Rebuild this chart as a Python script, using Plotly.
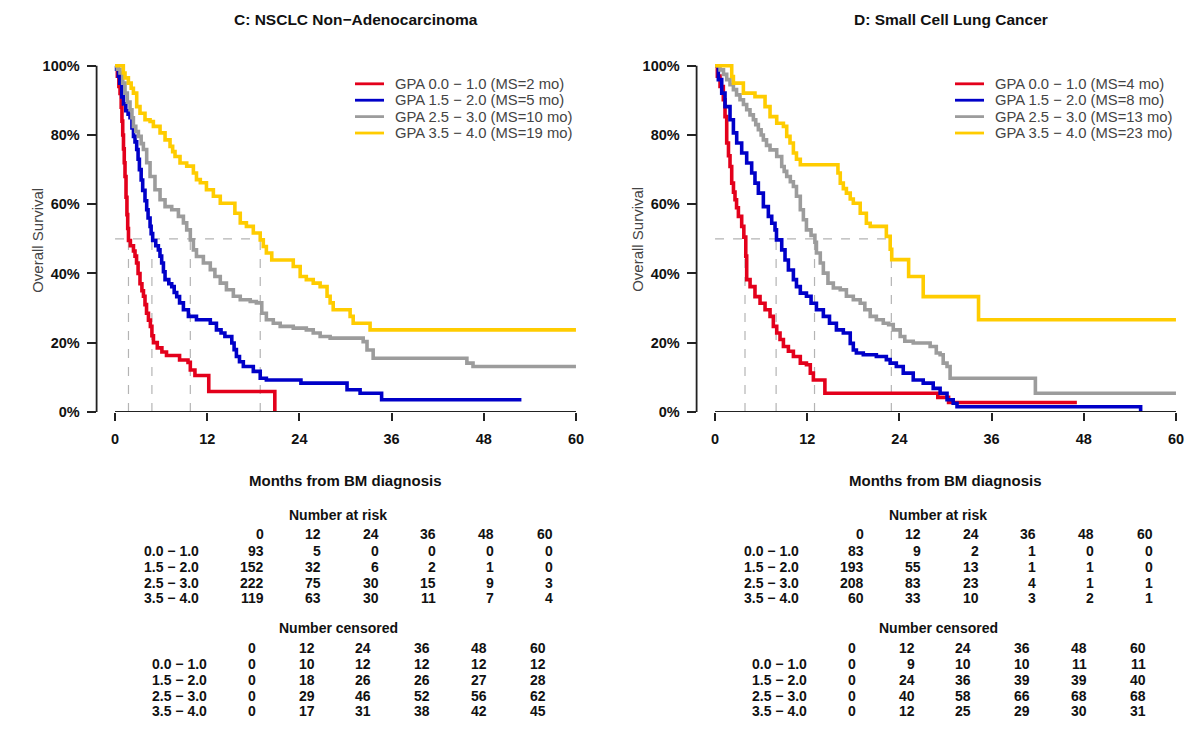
import plotly.graph_objects as go

# reference canvas is 1200x731; the page body offsets the figure, so positions are mapped
W, H = 1200, 731
M = 8
FW, FH = W - M, H - 2 * M
Y0, YS = 12.2, 0.983   # measured vertical placement of the figure on the page

groups = ["0.0 − 1.0", "1.5 − 2.0", "2.5 − 3.0", "3.5 − 4.0"]
colors = ["#e3001b", "#0000c8", "#9c9c9c", "#ffcc00"]
risk_times = [0, 12, 24, 36, 48, 60]
pct_vals = [0, 20, 40, 60, 80, 100]
pct_text = ["0%", "20%", "40%", "60%", "80%", "100%"]

# ---- panel C: NSCLC non-adenocarcinoma ----
c_title = "C: NSCLC Non−Adenocarcinoma"
c_ms = [2, 5, 10, 19]
c_median = [1.75, 4.8, 9.8, 18.9]

c_red_t = [0, 0.3, 0.5, 0.65, 0.8, 0.9, 1.0, 1.1, 1.2, 1.3, 1.43, 1.55, 1.65, 1.75, 2.0, 2.4, 2.6, 2.8,
           3.0, 3.25, 3.5, 3.7, 3.9, 4.1, 4.35, 4.6, 4.8, 5.0, 5.5, 6.1, 6.7, 8.4, 9.5, 9.8, 10.4, 12.2, 20.8]
c_red_s = [100, 97, 94, 92, 88, 84, 80, 76, 72, 68, 62, 57, 53, 49.5, 48, 46.5, 45, 43,
           40, 37, 35, 33.4, 31, 28.5, 26.5, 24.7, 22, 20, 18.5, 17.3, 16.3, 15, 14.3, 12.1, 10.5, 5.9, 0]

c_blue_t = [0, 0.2, 0.43, 0.6, 0.87, 1.1, 1.4, 1.7, 1.95, 2.2, 2.4, 2.6, 2.82, 3.0, 3.17, 3.4, 3.6, 3.9,
            4.12, 4.3, 4.56, 4.7, 4.9, 5.3, 5.64, 5.85, 6.07, 6.3, 6.51, 7.0, 7.38, 7.7, 8.03, 8.4, 8.9,
            9.55, 10.6, 12.4, 13.2, 13.8, 14.3, 15.2, 15.5, 15.8, 16.2, 16.7, 18.0, 18.9, 19.7, 24.2,
            30.2, 31.9, 34.7, 52.9]
c_blue_s = [100, 99, 97, 95, 91, 89, 87, 86, 85, 82, 79.6, 78, 75.8, 73, 70, 67, 64, 61,
            58.4, 56, 53.6, 51.5, 49.5, 48, 46.8, 45, 43, 40.5, 38.2, 37, 36.2, 34.5, 33.3, 31.5, 29.5,
            27.6, 26.6, 25.6, 23.7, 22.8, 21.8, 19.9, 18, 16, 14.5, 13.1, 11.7, 9.7, 9.2, 8.3,
            6.4, 5.4, 3.5, 3.5]

c_grey_t = [0, 0.3, 0.65, 1.0, 1.3, 1.6, 1.95, 2.2, 2.39, 2.7, 3.04, 3.4, 3.69, 4.12, 4.56, 5.2, 5.86,
            6.51, 7.38, 8.25, 8.9, 9.33, 9.8, 10.2, 10.6, 11.5, 12.4, 13.0, 13.7, 14.5, 15.4, 16.3,
            17.6, 18.4, 19.1, 19.7, 20.6, 21.5, 23.2, 24.9, 25.8, 26.7, 28.0, 32.3, 32.8, 33.6, 45.8,
            46.6, 60]
c_grey_s = [100, 99, 97.9, 95, 92.1, 89.5, 87.3, 85, 82.5, 81, 79.6, 77.5, 75.8, 72, 68, 64.2, 61.3,
            59.3, 58.4, 56.5, 54.6, 52.6, 49.7, 46.8, 44.9, 43, 41.1, 39.1, 37.2, 35.3, 33.4, 32.4,
            31.9, 31.5, 28.5, 26.6, 25.6, 24.7, 24.2, 23.7, 22.8, 21.8, 21.3, 20.3, 17.9, 15.5, 14.1,
            13.1, 13.1]

c_yel_t = [0, 1.08, 1.3, 1.74, 2.1, 2.39, 2.82, 3.25, 3.9, 4.56, 4.99, 5.86, 6.51, 7.16, 7.5, 7.81,
           8.46, 9.33, 10.2, 10.6, 11.1, 11.9, 12.8, 13.7, 15.6, 16.3, 17.1, 18.0, 18.9, 19.3, 19.7,
           20.4, 23.2, 24.1, 24.9, 25.8, 26.7, 27.6, 28.0, 28.4, 30.6, 31.0, 33.2, 60]
c_yel_s = [100, 97.9, 96.5, 95, 93.5, 92.1, 88.2, 86.3, 84.4, 83.9, 82.5, 80.6, 78.6, 76.7, 75.2, 73.8,
           71.9, 71, 69, 67.1, 66.2, 64.2, 62.3, 60.3, 57.4, 54.6, 53.6, 51.7, 49.7, 47.8, 45.9,
           43.9, 42, 39.1, 38.2, 37.2, 36.2, 33.4, 31.5, 29.5, 27.6, 25.6, 23.7, 23.7]

c_risk = [[93, 5, 0, 0, 0, 0], [152, 32, 6, 2, 1, 0], [222, 75, 30, 15, 9, 3], [119, 63, 30, 11, 7, 4]]
c_cens = [[0, 10, 12, 12, 12, 12], [0, 18, 26, 26, 27, 28], [0, 29, 46, 52, 56, 62], [0, 17, 31, 38, 42, 45]]

# ---- panel D: small cell lung cancer ----
d_title = "D: Small Cell Lung Cancer"
d_ms = [4, 8, 13, 23]
d_median = [3.9, 7.95, 12.95, 22.95]

d_red_t = [0, 0.3, 0.65, 1.08, 1.3, 1.52, 1.75, 1.95, 2.17, 2.4, 2.6, 2.8, 3.04, 3.47, 3.75, 4.0, 4.12,
           4.56, 5.2, 5.86, 6.51, 7.16, 7.59, 8.03, 8.46, 8.9, 9.55, 10.2, 11.1, 11.9, 12.4, 12.8, 14.3,
           29.0, 30.4, 47.1]
d_red_s = [100, 97, 94, 90.2, 85.3, 77.7, 74, 70.9, 66.1, 63.5, 61.3, 59, 56.5, 53.6, 50.5, 45, 38.2,
           36.2, 33.3, 31.4, 29.5, 27.6, 24.7, 22.8, 20.9, 18.9, 17.5, 16, 14.1, 13.6, 11.2, 9.2, 5.4,
           4.2, 2.7, 2.7]

d_blue_t = [0, 0.43, 0.87, 1.3, 1.95, 2.39, 2.82, 3.47, 4.12, 4.77, 5.2, 5.64, 6.29, 6.94, 7.38, 7.81,
            8.0, 8.68, 9.11, 9.55, 10.2, 10.6, 11.1, 11.9, 12.5, 13.2, 14.1, 14.9, 15.8, 16.7, 17.6,
            18.0, 18.4, 19.3, 21.0, 22.3, 22.8, 23.6, 24.5, 25.8, 27.1, 28.4, 29.3, 30.2, 31.0, 31.5, 55.4]
d_blue_s = [100, 96, 92.1, 88.2, 84.4, 80.6, 77.7, 74.8, 71.9, 69, 66.1, 63.2, 59.3, 56.5, 54.5, 52.6,
            49.7, 46.8, 43.9, 41, 38.2, 36.2, 34.3, 33.4, 31.4, 29.5, 27.6, 25.6, 23.7, 22.8, 19.8,
            17.9, 17, 16.5, 16, 15.1, 14.1, 13.1, 11.2, 9.2, 8.3, 6.8, 5.4, 3.5, 2.5, 1.5, 0]

d_grey_t = [0, 0.65, 1.1, 1.52, 1.95, 2.39, 2.8, 3.25, 3.7, 4.12, 4.55, 4.99, 5.3, 5.64, 6.0, 6.29, 6.7,
            7.16, 8.03, 8.68, 9.0, 9.33, 9.8, 10.2, 10.6, 11.1, 11.5, 11.9, 12.5, 13.0, 13.2, 13.7, 14.1,
            14.7, 15.4, 16.3, 17.1, 18.0, 18.9, 19.5, 20.2, 21.0, 21.9, 22.6, 23.2, 24.1, 24.7, 25.8,
            28.0, 28.8, 29.3, 29.7, 30.2, 30.6, 41.7, 60]
d_grey_s = [100, 98.8, 97.5, 96, 94.5, 93.1, 91.6, 90.2, 88.8, 87.3, 85.8, 84.4, 83, 81.5, 80, 78.6, 77,
            75.7, 73.8, 70.9, 69.5, 68, 66.5, 65.1, 62.3, 58.4, 55.5, 52.6, 51, 49, 45.9, 43, 40.1,
            37.2, 35.8, 35.3, 33.4, 32.4, 31.4, 29.5, 27.6, 26.6, 25.6, 25.2, 23.7, 21.8, 20.4, 19.9,
            18.9, 17, 16.5, 14.1, 13.1, 9.7, 5.4, 5.4]

d_yel_t = [0, 2.17, 2.39, 3.69, 5.2, 6.51, 7.16, 8.03, 8.9, 9.33, 9.76, 10.2, 10.6, 11.1, 16.0, 16.3,
           16.7, 17.1, 17.6, 18.0, 18.9, 19.7, 20.2, 22.3, 22.8, 23.0, 25.2, 27.1, 34.3, 60]
d_yel_s = [100, 96.9, 95, 92.1, 91.1, 88.2, 85.3, 83.4, 82.5, 79.6, 77.7, 74.8, 73, 71.4, 69, 66.1,
           64.5, 63.2, 61.5, 60.3, 57.4, 54.5, 53.6, 50.7, 47, 44, 39.1, 33.3, 26.6, 26.6]

d_risk = [[83, 9, 2, 1, 0, 0], [193, 55, 13, 1, 1, 0], [208, 83, 23, 4, 1, 1], [60, 33, 10, 3, 2, 1]]
d_cens = [[0, 9, 10, 10, 11, 11], [0, 24, 36, 39, 39, 40], [0, 40, 58, 66, 68, 68], [0, 12, 25, 29, 30, 31]]

panels = [
    dict(title=c_title, ms=c_ms, median=c_median,
         curves=[(c_red_t, c_red_s), (c_blue_t, c_blue_s), (c_grey_t, c_grey_s), (c_yel_t, c_yel_s)],
         risk=c_risk, cens=c_cens),
    dict(title=d_title, ms=d_ms, median=d_median,
         curves=[(d_red_t, d_red_s), (d_blue_t, d_blue_s), (d_grey_t, d_grey_s), (d_yel_t, d_yel_s)],
         risk=d_risk, cens=d_cens),
]


def px(x):
    # screen pixel -> paper fraction
    return (x - M) / FW


def py(y):
    return 1 - ((y - Y0) / YS) / FH


FONT = "Liberation Sans, Arial, sans-serif"
bold = dict(family=FONT, size=14, color="#111", weight="bold")


def label(text, x, y, anchor="center", font=bold, **kw):
    return dict(text=text, x=px(x), y=py(y), xref="paper", yref="paper", xanchor=anchor,
                yanchor="middle", showarrow=False, font=font, **kw)


fig = go.Figure()
shapes, annotations = [], []
title_x = [356, 951]

for k, p in enumerate(panels):
    dx = 600 * k
    xa = "x" if k == 0 else "x2"
    ya = "y" if k == 0 else "y2"

    # median guide lines
    guide = dict(color="#b4b4b4", width=1.2, dash="dash")
    fig.add_trace(go.Scatter(x=[0, max(p["median"])], y=[50, 50], mode="lines", xaxis=xa, yaxis=ya,
                             line=guide, showlegend=False, hoverinfo="skip"))
    for m in p["median"]:
        fig.add_trace(go.Scatter(x=[m, m], y=[0, 50], mode="lines", xaxis=xa, yaxis=ya,
                                 line=guide, showlegend=False, hoverinfo="skip"))

    # survival curves
    for i, (t, s) in enumerate(p["curves"]):
        fig.add_trace(go.Scatter(x=t, y=s, mode="lines", line_shape="hv", xaxis=xa, yaxis=ya,
                                 line=dict(color=colors[i], width=3.6),
                                 name="GPA %s (MS=%d mo)" % (groups[i], p["ms"][i]),
                                 showlegend=False))

    # axis lines (R style: x axis from first to last tick)
    shapes.append(dict(type="line", xref=xa, yref=ya, x0=0, x1=60, y0=0, y1=0,
                       line=dict(color="#222", width=1.8)))
    shapes.append(dict(type="line", xref=xa + " domain", yref=ya, x0=0, x1=0, y0=0, y1=100,
                       line=dict(color="#222", width=1.8)))

    # legend
    for i in range(4):
        ry = 84 + i * 16.4
        shapes.append(dict(type="line", xref="paper", yref="paper",
                           x0=px(355 + dx), x1=px(384 + dx), y0=py(ry), y1=py(ry),
                           line=dict(color=colors[i], width=2.8)))
        annotations.append(label("GPA %s (MS=%d mo)" % (groups[i], p["ms"][i]), 393 + dx, ry, "left",
                                 dict(family=FONT, size=14.8, color="#444")))

    # titles
    annotations.append(label(p["title"], title_x[k], 20,
                             font=dict(family=FONT, size=15.5, color="#111", weight="bold")))
    annotations.append(label("Overall Survival", 38 + dx, 240, font=dict(family=FONT, size=15, color="#444"),
                             textangle=-90))
    annotations.append(label("Months from BM diagnosis", 345 + dx, 481,
                             font=dict(family=FONT, size=15, color="#111", weight="bold")))

    # number at risk table
    annotations.append(label("Number at risk", 338 + dx, 515))
    risk_cols = [266, 323, 381, 438, 496, 555]
    risk_rows = [551, 567, 583, 598]
    for j, tm in enumerate(risk_times):
        annotations.append(label(str(tm), risk_cols[j] + dx, 534, "right"))
    for i in range(4):
        annotations.append(label(groups[i], 201 + dx, risk_rows[i], "right"))
        for j in range(6):
            annotations.append(label(str(p["risk"][i][j]), risk_cols[j] + dx, risk_rows[i], "right"))

    # number censored table
    annotations.append(label("Number censored", 338 + dx, 628))
    cens_cols = [258, 317, 373, 432, 489, 548]
    cens_rows = [664, 680, 696, 711]
    for j, tm in enumerate(risk_times):
        annotations.append(label(str(tm), cens_cols[j] + dx, 648, "right"))
    for i in range(4):
        annotations.append(label(groups[i], 209 + dx, cens_rows[i], "right"))
        for j in range(6):
            annotations.append(label(str(p["cens"][i][j]), cens_cols[j] + dx, cens_rows[i], "right"))

xdom = [[px(96.6), px(594.4)], [px(696.6), px(1194.4)]]
ydom = [py(412), py(62.5)]

axis_common = dict(showgrid=False, zeroline=False, showline=False, ticks="outside",
                   tickwidth=1.8, tickcolor="#222", tickfont=dict(family=FONT, size=14.5, color="#111",
                                                                  weight="bold"))
fig.update_layout(
    width=FW, height=FH, autosize=False,
    margin=dict(l=0, r=0, t=0, b=0),
    paper_bgcolor="white", plot_bgcolor="white",
    showlegend=False,
    xaxis=dict(domain=xdom[0], range=[-2.4, 62.4], tickvals=risk_times, ticklen=8,
               ticklabelstandoff=6, anchor="y", **axis_common),
    xaxis2=dict(domain=xdom[1], range=[-2.4, 62.4], tickvals=risk_times, ticklen=8,
                ticklabelstandoff=6, anchor="y2", **axis_common),
    yaxis=dict(domain=ydom, range=[0, 101], tickvals=pct_vals, ticktext=pct_text, ticklen=9,
               ticklabelstandoff=4, anchor="x", **axis_common),
    yaxis2=dict(domain=ydom, range=[0, 101], tickvals=pct_vals, ticktext=pct_text, ticklen=9,
                ticklabelstandoff=4, anchor="x2", **axis_common),
    shapes=shapes,
    annotations=annotations,
)

fig.write_html("out.html")
